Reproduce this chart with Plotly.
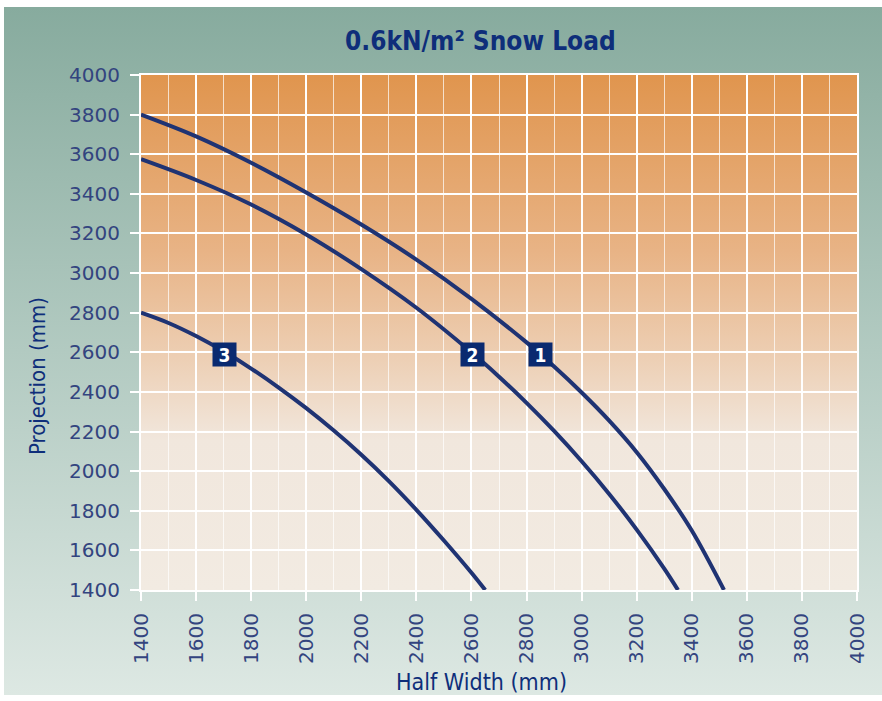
import base64
import plotly.graph_objects as go

# Span curves: half width (mm) vs maximum projection (mm) at 0.6 kN/m² snow load
curve1_x = [1400, 1600, 1800, 2000, 2200, 2400, 2600, 2800, 2900, 3000, 3100, 3200, 3300, 3400, 3517]
curve1_y = [3800, 3690, 3557, 3407, 3245, 3068, 2870, 2650, 2528, 2397, 2255, 2096, 1910, 1700, 1400]

curve2_x = [1400, 1600, 1800, 2000, 2200, 2400, 2600, 2700, 2800, 2900, 3000, 3100, 3200, 3300, 3350]
curve2_y = [3575, 3470, 3346, 3195, 3020, 2825, 2600, 2477, 2345, 2203, 2050, 1885, 1705, 1508, 1400]

curve3_x = [1400, 1500, 1600, 1700, 1800, 1900, 2000, 2100, 2200, 2300, 2400, 2500, 2600, 2650]
curve3_y = [2800, 2748, 2682, 2605, 2518, 2422, 2318, 2205, 2083, 1950, 1805, 1650, 1487, 1400]

# Curve number tags placed on each line
tag_text = ["1", "2", "3"]
tag_x = [2850, 2603, 1705]
tag_y = [2590, 2590, 2590]

axis_ticks = list(range(1400, 4001, 200))

NAVY_LINE = "#1F3373"
TAG_BG = "#0A2A70"
TEXT_NAVY = "#0E2E7A"
TICK_NAVY = "#33447F"
COND = "Liberation Sans Narrow, DejaVu Sans Condensed, Arial Narrow, sans-serif"


def gradient_svg(stops):
    parts = "".join(f'<stop offset="{o}" stop-color="{c}"/>' for o, c in stops)
    svg = (
        '<svg xmlns="http://www.w3.org/2000/svg" width="100" height="100" '
        'viewBox="0 0 100 100" preserveAspectRatio="none">'
        f'<defs><linearGradient id="g" x1="0" y1="0" x2="0" y2="1">{parts}</linearGradient></defs>'
        '<rect x="0" y="0" width="100" height="100" fill="url(#g)"/></svg>'
    )
    return "data:image/svg+xml;base64," + base64.b64encode(svg.encode()).decode()


outer_bg = gradient_svg([(0, "#87AB9E"), (0.5, "#B2CAC1"), (1, "#DDE8E3")])
plot_bg = gradient_svg([(0, "#E0954E"), (0.34, "#E8B385"), (0.55, "#EDCFB4"),
                        (0.71, "#F1E7DD"), (1, "#F2EBE2")])

fig = go.Figure()
for xs, ys in [(curve1_x, curve1_y), (curve2_x, curve2_y), (curve3_x, curve3_y)]:
    fig.add_trace(go.Scatter(x=xs, y=ys, mode="lines",
                             line=dict(color=NAVY_LINE, width=4, shape="spline", smoothing=1.0),
                             hoverinfo="skip", showlegend=False))

for t, x, y in zip(tag_text, tag_x, tag_y):
    fig.add_annotation(x=x, y=y, xref="x", yref="y", text=f"<b>{t}</b>", showarrow=False,
                       bgcolor=TAG_BG, width=23, height=23, borderpad=0,
                       font=dict(family=COND, size=19, color="white"))

# Plot geometry in pixels: x 141..857, y 75..590 on an 882x701 page
L, R, T, B = 141, 857, 75, 590
W, H = R - L, B - T


def px(xp):
    return (xp - L) / W


def py(yp):
    return (B - yp) / H


fig.add_layout_image(source=outer_bg, xref="paper", yref="paper",
                     x=px(4), y=py(7), sizex=(882 - 4) / W, sizey=(695 - 7) / H,
                     xanchor="left", yanchor="top", sizing="stretch", layer="below")
fig.add_layout_image(source=plot_bg, xref="paper", yref="paper",
                     x=0, y=1, sizex=1, sizey=1,
                     xanchor="left", yanchor="top", sizing="stretch", layer="below")

fig.add_annotation(x=px(480), y=py(41), xref="paper", yref="paper", showarrow=False,
                   xanchor="center", yanchor="middle",
                   text="<b>0.6kN/m² Snow Load</b>",
                   font=dict(family=COND, size=26, color=TEXT_NAVY))
fig.add_annotation(x=px(481), y=py(682), xref="paper", yref="paper", showarrow=False,
                   xanchor="center", yanchor="middle",
                   text="Half Width (mm)",
                   font=dict(family=COND, size=23, color=TEXT_NAVY))
fig.add_annotation(x=px(37), y=py(376), xref="paper", yref="paper", showarrow=False,
                   xanchor="center", yanchor="middle",
                   text="Projection (mm)", textangle=-90,
                   font=dict(family=COND, size=22, color=TEXT_NAVY))

axis_common = dict(
    tickmode="array", tickvals=axis_ticks, ticktext=[str(v) for v in axis_ticks],
    range=[1400, 4000], showgrid=True, gridcolor="white", gridwidth=2,
    showline=True, linecolor="white", linewidth=2, mirror=True,
    ticks="outside", tickcolor="white", ticklen=9, tickwidth=2,
    tickfont=dict(family="DejaVu Sans", size=20, color=TICK_NAVY),
    zeroline=False, fixedrange=True,
)

fig.update_xaxes(**axis_common, tickangle=-90, ticklabelstandoff=4,
                 minor=dict(dtick=100, tick0=1400, showgrid=True,
                            gridcolor="rgba(255,255,255,0.7)", gridwidth=1, ticks=""))
fig.update_yaxes(**axis_common, ticklabelstandoff=6)

fig.update_layout(
    width=882, height=701,
    margin=dict(l=L, r=882 - R, t=T, b=701 - B),
    paper_bgcolor="white", plot_bgcolor="rgba(0,0,0,0)",
    showlegend=False,
)

fig.write_html("out.html")
